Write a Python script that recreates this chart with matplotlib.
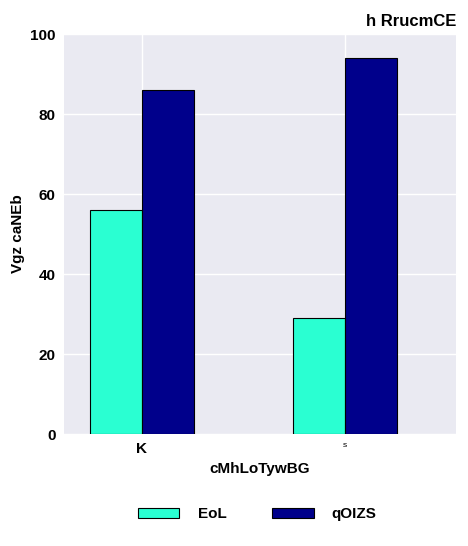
import numpy as np
import matplotlib.pyplot as plt

plt.rcParams['font.family'] = ['Liberation Sans', 'DejaVu Sans']

categories = ['K', 's']
series_names = ['EoL', 'qOIZS']
eol_values = [56, 29]
qoizs_values = [86, 94]
colors = ['#2affd2', '#00008b']


def main():
    fig = plt.figure(figsize=(4.68, 5.46), dpi=100)
    ax = fig.add_axes([64 / 468, 112 / 546, 392 / 468, 400 / 546])
    ax.set_facecolor('#eaeaf2')
    x = np.arange(len(categories))
    w = 0.256
    ax.bar(x - w / 2, eol_values, w, color=colors[0], edgecolor='black', linewidth=0.8, label=series_names[0], zorder=2)
    ax.bar(x + w / 2, qoizs_values, w, color=colors[1], edgecolor='black', linewidth=0.8, label=series_names[1], zorder=2)
    ax.set_xlim(-0.384, 1.547)
    ax.set_ylim(0, 100)
    ax.set_xticks(x)
    ax.set_xticklabels(categories, fontweight='bold', fontsize=11)
    ax.get_xticklabels()[1].set_fontsize(6)
    ax.get_xticklabels()[1].set_fontweight('normal')
    ax.set_yticks(range(0, 101, 20))
    for lab in ax.get_yticklabels():
        lab.set_fontweight('bold')
        lab.set_fontsize(11)
    ax.grid(True, color='white', linewidth=1, zorder=0)
    ax.tick_params(length=0, pad=6)
    for s in ax.spines.values():
        s.set_visible(False)
    ax.set_xlabel('cMhLoTywBG', fontweight='bold', fontsize=11)
    ax.set_ylabel('Vgz caNEb', fontweight='bold', fontsize=11)
    ax.set_title('h RrucmCE', loc='right', fontweight='bold', fontsize=12)
    fig.legend(loc='lower center', bbox_to_anchor=(0.55, 0.02), ncol=2, frameon=False,
               prop={'weight': 'bold', 'size': 11}, handlelength=2.7, columnspacing=3, handletextpad=1.2)
    fig.savefig('out.png', dpi=100)


if __name__ == "__main__":
    main()
